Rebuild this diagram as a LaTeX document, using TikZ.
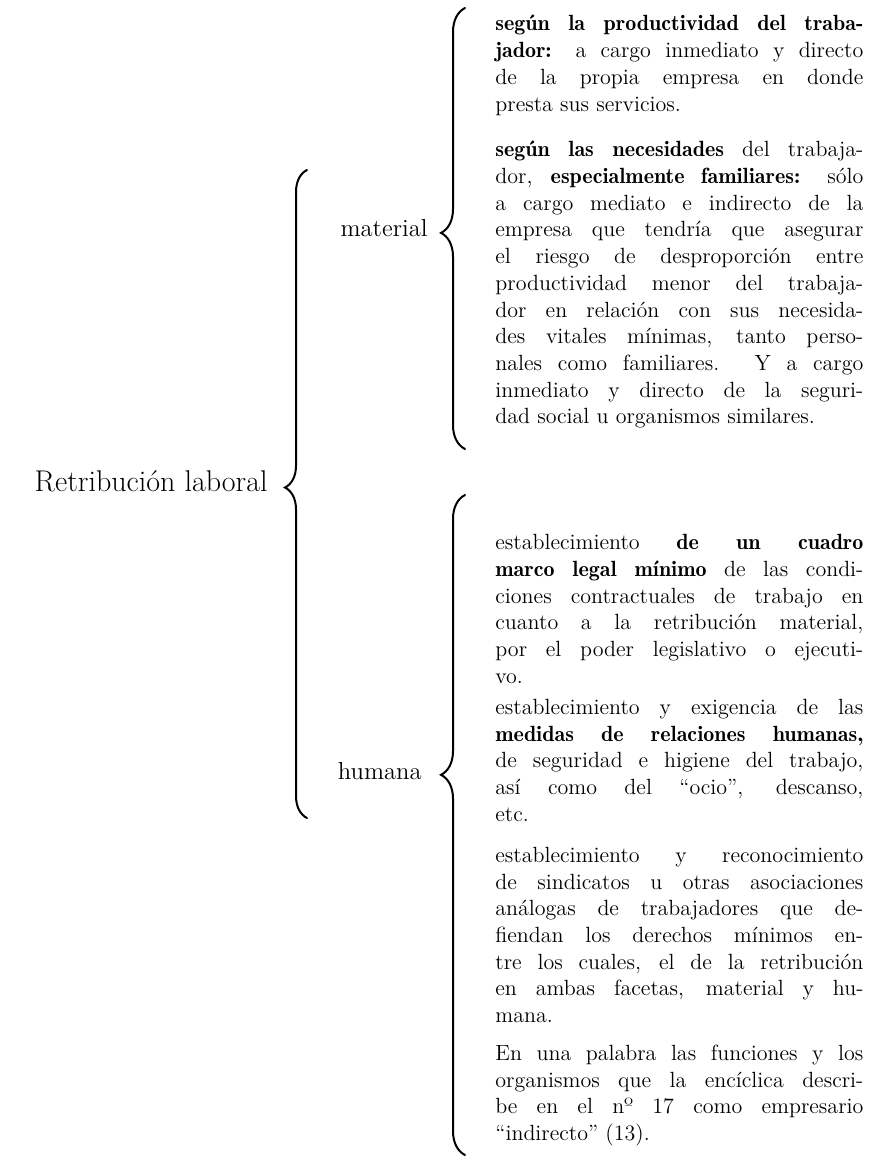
\documentclass[tikz,border=0pt]{standalone}
\usetikzlibrary{positioning,decorations.pathreplacing}
\hyphenpenalty=10000
\tolerance=9999
\emergencystretch=10pt
\newcommand\hi[1]{{\fontseries{b}\selectfont #1}}

\tikzset{
  lbl/.style={inner sep=0pt, anchor=mid east},
  blk/.style={inner sep=0pt, text width=184pt, align=justify, font=\fontsize{11}{13.35}\selectfont},
  curly/.style={decorate, decoration={brace, amplitude=#1}, line width=1pt, line cap=round},
  curly/.default=12pt
}

\begin{document}
\begin{tikzpicture}[x=0.5pt, y=-0.5pt]
\useasboundingbox (0,0) rectangle (876,1160);
% brace ends
\coordinate (rtop) at (307,170);
\coordinate (rbot) at (307,818);
\coordinate (mtop) at (465,8);
\coordinate (mbot) at (465,449);
\coordinate (htop) at (465,495);
\coordinate (hbot) at (465,1155);
% labels
\node[lbl, font=\fontsize{15}{18}\selectfont] (root) at (268,487) {Retribución laboral};
\node[lbl, font=\fontsize{12.3}{14}\selectfont] (mat) at (428,232) {material};
\node[lbl, font=\fontsize{12.3}{14}\selectfont] (hum) at (422,775) {humana};
% text blocks
\node[blk, anchor=base west] (b1) at (495,31) {\hi{según la productividad del traba-\linebreak jador:} a cargo inmediato y directo\linebreak de la propia empresa en donde\linebreak presta sus servicios.};
\node[blk, below=12.6pt of b1] (b2) {\parfillskip=0pt \hi{según las necesidades} del trabaja-\linebreak dor, \hi{especialmente familiares:} sólo\linebreak a cargo mediato e indirecto de la\linebreak empresa que tendría que asegurar\linebreak el riesgo de desproporción entre\linebreak productividad menor del trabaja-\linebreak dor en relación con sus necesida-\linebreak des vitales mínimas, tanto perso-\linebreak nales como familiares. Y a cargo\linebreak inmediato y directo de la seguri-\linebreak dad social u organismos similares.};
\node[blk, below=52.7pt of b2] (b3) {establecimiento \hi{de un cuadro\linebreak marco legal mínimo} de las condi-\linebreak ciones contractuales de trabajo en\linebreak cuanto a la retribución material,\linebreak por el poder legislativo o ejecuti-\linebreak vo.};
\node[blk, below=7.4pt of b3] (b4) {establecimiento y exigencia de las\linebreak \hi{medidas de relaciones humanas,}\linebreak de seguridad e higiene del trabajo,\linebreak así como del ``ocio'', descanso,\linebreak etc.};
\node[blk, below=12.4pt of b4] (b5) {establecimiento y reconocimiento\linebreak de sindicatos u otras asociaciones\linebreak análogas de trabajadores que de-\linebreak fiendan los derechos mínimos en-\linebreak tre los cuales, el de la retribución\linebreak en ambas facetas, material y hu-\linebreak mana.};
\node[blk, below=10.7pt of b5] (b6) {En una palabra las funciones y los\linebreak organismos que la encíclica descri-\linebreak be en el nº 17 como empresario\linebreak ``indirecto'' (13).};
% braces
\draw[curly=11pt, decoration={aspect=0.51}] (rbot) -- (rtop);
\draw[curly, decoration={aspect=0.49}] (mbot) -- (mtop);
\draw[curly, decoration={aspect=0.576}] (hbot) -- (htop);
\end{tikzpicture}
\end{document}
